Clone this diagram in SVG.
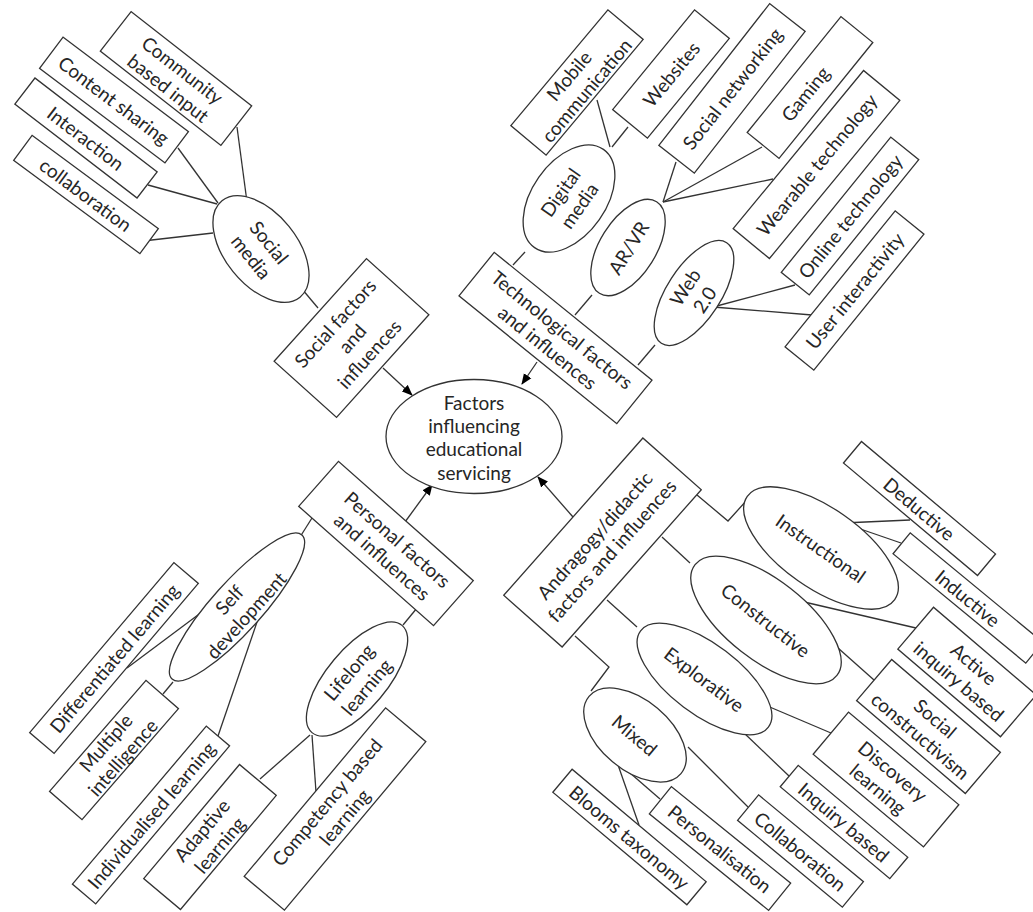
<svg xmlns="http://www.w3.org/2000/svg" width="1033" height="912" viewBox="0 0 1033 912">
<style>
.b{fill:#fff;stroke:#333;stroke-width:1.3}
.c{fill:none;stroke:#333;stroke-width:1.3}
.t{font-family:Lato,'Liberation Sans',sans-serif;font-size:19px;fill:#262626;text-anchor:middle;dominant-baseline:central}
</style>
<defs>
<marker id="arr" markerWidth="11" markerHeight="10" refX="10" refY="5" orient="auto" markerUnits="userSpaceOnUse"><path d="M0,0.5 L11,5 L0,9.5 z" fill="#000"/></marker>
</defs>
<rect width="1033" height="912" fill="#fff"/>
<g id="connectors" class="c">
<line x1="237" y1="127" x2="247" y2="202"/>
<line x1="178" y1="148" x2="218" y2="203"/>
<line x1="148" y1="185" x2="217" y2="204"/>
<line x1="143" y1="241" x2="213" y2="233"/>
<line x1="302" y1="289" x2="318" y2="308"/>
<line x1="383" y1="368" x2="412" y2="395" marker-end="url(#arr)"/>
<line x1="597" y1="100" x2="610" y2="147"/>
<line x1="628" y1="127" x2="612" y2="147"/>
<line x1="525" y1="252" x2="513" y2="265"/>
<line x1="676" y1="162" x2="663" y2="202"/>
<line x1="762" y1="147" x2="663" y2="202"/>
<line x1="773" y1="179" x2="663" y2="202"/>
<line x1="592" y1="295" x2="575" y2="315"/>
<line x1="713" y1="307" x2="795" y2="285"/>
<line x1="713" y1="307" x2="812" y2="315"/>
<line x1="655" y1="345" x2="638" y2="365"/>
<line x1="537" y1="362" x2="522" y2="384" marker-end="url(#arr)"/>
<line x1="218" y1="600" x2="127" y2="668"/>
<line x1="173" y1="682" x2="163" y2="694"/>
<line x1="257" y1="622" x2="218" y2="736"/>
<line x1="300" y1="537" x2="312" y2="518"/>
<line x1="403" y1="625" x2="417" y2="608"/>
<line x1="310" y1="735" x2="260" y2="779"/>
<line x1="312" y1="735" x2="316" y2="792"/>
<line x1="405" y1="522" x2="432" y2="485" marker-end="url(#arr)"/>
<polyline points="697,495 728,521 747,500"/>
<line x1="662" y1="537" x2="690" y2="563"/>
<line x1="607" y1="600" x2="637" y2="627"/>
<polyline points="575,636 609,667 591,691"/>
<line x1="843" y1="523" x2="910" y2="520"/>
<line x1="843" y1="523" x2="901" y2="543"/>
<line x1="787" y1="598" x2="916" y2="628"/>
<line x1="838" y1="648" x2="874" y2="680"/>
<line x1="765" y1="705" x2="831" y2="733"/>
<line x1="743" y1="732" x2="789" y2="776"/>
<line x1="688" y1="747" x2="748" y2="807"/>
<line x1="622" y1="766" x2="660" y2="799"/>
<line x1="617" y1="762" x2="639" y2="825"/>
<line x1="573" y1="517" x2="538" y2="477" marker-end="url(#arr)"/>
</g>
<g id="central"><ellipse class="b" cx="474" cy="436.5" rx="88" ry="57"/>
<text class="t"><tspan x="474" y="402">Factors</tspan><tspan x="474" y="425">influencing</tspan><tspan x="474" y="448">educational</tspan><tspan x="474" y="472">servicing</tspan></text></g>
<g id="social-factors" transform="translate(351.5,338) rotate(-48)"><rect class="b" x="-69" y="-42" width="138" height="84"/>
<text class="t"><tspan x="0" y="-23">Social factors</tspan><tspan x="0" y="0">and</tspan><tspan x="0" y="23">influences</tspan></text></g>
<g id="social-media" transform="translate(261,249) rotate(51)"><ellipse class="b" rx="62" ry="36"/>
<text class="t"><tspan x="0" y="-11.5">Social</tspan><tspan x="0" y="11.5">media</tspan></text></g>
<g id="community" transform="translate(176,78.5) rotate(38)"><rect class="b" x="-76.5" y="-25" width="153" height="50"/>
<text class="t"><tspan x="0" y="-11.5">Community</tspan><tspan x="0" y="11.5">based input</tspan></text></g>
<g id="content-sharing" transform="translate(114,100) rotate(37)"><rect class="b" x="-78.5" y="-19.5" width="157" height="39"/>
<text class="t" x="0" y="0">Content sharing</text></g>
<g id="interaction" transform="translate(86,138) rotate(37.5)"><rect class="b" x="-77" y="-16.5" width="154" height="33"/>
<text class="t" x="0" y="0">Interaction</text></g>
<g id="collaboration-s" transform="translate(86,194.5) rotate(36.5)"><rect class="b" x="-78.5" y="-15.5" width="157" height="31"/>
<text class="t" x="0" y="0">collaboration</text></g>
<g id="tech-factors" transform="translate(555.5,338) rotate(39)"><rect class="b" x="-101.5" y="-28" width="203" height="56"/>
<text class="t"><tspan x="0" y="-11.5">Technological factors</tspan><tspan x="0" y="11.5">and influences</tspan></text></g>
<g id="digital-media" transform="translate(569,198.5) rotate(-55)"><ellipse class="b" rx="60" ry="37"/>
<text class="t"><tspan x="0" y="-11.5">Digital</tspan><tspan x="0" y="11.5">media</tspan></text></g>
<g id="arvr" transform="translate(628,247.5) rotate(-58)"><ellipse class="b" rx="54" ry="28"/>
<text class="t" x="0" y="0">AR/VR</text></g>
<g id="web20" transform="translate(694,293) rotate(-57)"><ellipse class="b" rx="60" ry="27"/>
<text class="t"><tspan x="0" y="-11.5">Web</tspan><tspan x="0" y="11.5">2.0</tspan></text></g>
<g id="mobile" transform="translate(577,82.5) rotate(-50)"><rect class="b" x="-75.5" y="-23" width="151" height="46"/>
<text class="t"><tspan x="0" y="-11.5">Mobile</tspan><tspan x="0" y="11.5">communication</tspan></text></g>
<g id="websites" transform="translate(671,74) rotate(-50.6)"><rect class="b" x="-64.5" y="-22.5" width="129" height="45"/>
<text class="t" x="0" y="0">Websites</text></g>
<g id="social-networking" transform="translate(732,88.4) rotate(-52)"><rect class="b" x="-90" y="-22.5" width="180" height="45"/>
<text class="t" x="0" y="0">Social networking</text></g>
<g id="gaming" transform="translate(810,87.5) rotate(-51)"><rect class="b" x="-74.5" y="-20.5" width="149" height="41"/>
<text class="t" x="-8" y="0">Gaming</text></g>
<g id="wearable" transform="translate(816.5,164.5) rotate(-50.5)"><rect class="b" x="-102.5" y="-23.5" width="205" height="47"/>
<text class="t" x="0" y="0">Wearable technology</text></g>
<g id="online" transform="translate(850,216) rotate(-51)"><rect class="b" x="-87" y="-18" width="174" height="36"/>
<text class="t" x="0" y="0">Online technology</text></g>
<g id="user-interactivity" transform="translate(854.5,290.5) rotate(-51)"><rect class="b" x="-87.5" y="-18.5" width="175" height="37"/>
<text class="t" x="0" y="0">User interactivity</text></g>
<g id="personal-factors" transform="translate(386,543.5) rotate(41.5)"><rect class="b" x="-90" y="-30" width="180" height="60"/>
<text class="t"><tspan x="6" y="-11.5">Personal factors</tspan><tspan x="6" y="11.5">and influences</tspan></text></g>
<g id="self-development" transform="translate(237,607) rotate(-48)"><ellipse class="b" rx="97" ry="25"/>
<text class="t"><tspan x="0" y="-11.5">Self</tspan><tspan x="0" y="11.5">development</tspan></text></g>
<g id="differentiated" transform="translate(114,658) rotate(-49.7)"><rect class="b" x="-111.5" y="-16" width="223" height="32"/>
<text class="t" x="0" y="0">Differentiated learning</text></g>
<g id="multiple" transform="translate(114,750) rotate(-49)"><rect class="b" x="-73.5" y="-21.5" width="147" height="43"/>
<text class="t"><tspan x="0" y="-12">Multiple</tspan><tspan x="0" y="10.5">intelligence</tspan></text></g>
<g id="individualised" transform="translate(151,815) rotate(-49.7)"><rect class="b" x="-103.5" y="-15.25" width="207" height="30.5"/>
<text class="t" x="0" y="0">Individualised learning</text></g>
<g id="adaptive" transform="translate(210,837) rotate(-50)"><rect class="b" x="-74.5" y="-24" width="149" height="48"/>
<text class="t"><tspan x="0" y="-11.5">Adaptive</tspan><tspan x="0" y="11.5">learning</tspan></text></g>
<g id="competency" transform="translate(335,809) rotate(-50)"><rect class="b" x="-110" y="-26.25" width="220" height="52.5"/>
<text class="t"><tspan x="0" y="-11.5">Competency based</tspan><tspan x="0" y="11.5">learning</tspan></text></g>
<g id="lifelong" transform="translate(357,679) rotate(-50)"><ellipse class="b" rx="70" ry="30"/>
<text class="t"><tspan x="0" y="-11.5">Lifelong</tspan><tspan x="0" y="11.5">learning</tspan></text></g>
<g id="andragogy" transform="translate(602.5,542.5) rotate(-48.5)"><rect class="b" x="-105" y="-39" width="210" height="78"/>
<text class="t"><tspan x="0" y="-11.5">Andragogy/didactic</tspan><tspan x="0" y="11.5">factors and influences</tspan></text></g>
<g id="instructional" transform="translate(821,548) rotate(35)"><ellipse class="b" rx="90" ry="40"/>
<text class="t" x="0" y="0">Instructional</text></g>
<g id="constructive" transform="translate(766,620) rotate(38)"><ellipse class="b" rx="90" ry="40"/>
<text class="t" x="0" y="0">Constructive</text></g>
<g id="explorative" transform="translate(704.5,679) rotate(37)"><ellipse class="b" rx="80" ry="35"/>
<text class="t" x="0" y="0">Explorative</text></g>
<g id="mixed" transform="translate(635,735) rotate(40)"><ellipse class="b" rx="60" ry="35"/>
<text class="t" x="0" y="0">Mixed</text></g>
<g id="deductive" transform="translate(919.5,508.5) rotate(40)"><rect class="b" x="-87.5" y="-14" width="175" height="28"/>
<text class="t" x="0" y="0">Deductive</text></g>
<g id="inductive" transform="translate(968,598) rotate(39.5)"><rect class="b" x="-86" y="-13.5" width="172" height="27"/>
<text class="t" x="0" y="0">Inductive</text></g>
<g id="active-inquiry" transform="translate(967,672) rotate(40.5)"><rect class="b" x="-67.5" y="-27.5" width="135" height="55"/>
<text class="t"><tspan x="0" y="-11.5">Active</tspan><tspan x="0" y="11.5">inquiry based</tspan></text></g>
<g id="social-constructivism" transform="translate(928.5,726.5) rotate(40.5)"><rect class="b" x="-71.5" y="-27" width="143" height="54"/>
<text class="t"><tspan x="0" y="-11.5">Social</tspan><tspan x="0" y="11.5">constructivism</tspan></text></g>
<g id="discovery" transform="translate(886,779.5) rotate(40)"><rect class="b" x="-72" y="-27.5" width="144" height="55"/>
<text class="t"><tspan x="0" y="-11.5">Discovery</tspan><tspan x="0" y="11.5">learning</tspan></text></g>
<g id="inquiry-based" transform="translate(844,822) rotate(40)"><rect class="b" x="-71.5" y="-14" width="143" height="28"/>
<text class="t" x="0" y="0">Inquiry based</text></g>
<g id="collaboration-a" transform="translate(800.5,851) rotate(39.6)"><rect class="b" x="-68" y="-16.5" width="136" height="33"/>
<text class="t" x="0" y="0">Collaboration</text></g>
<g id="personalisation" transform="translate(720,848.5) rotate(39)"><rect class="b" x="-76.75" y="-17.5" width="153.5" height="35"/>
<text class="t" x="0" y="0">Personalisation</text></g>
<g id="blooms" transform="translate(629.5,837) rotate(40)"><rect class="b" x="-87.5" y="-15" width="175" height="30"/>
<text class="t" x="0" y="0">Blooms taxonomy</text></g>
</svg>
